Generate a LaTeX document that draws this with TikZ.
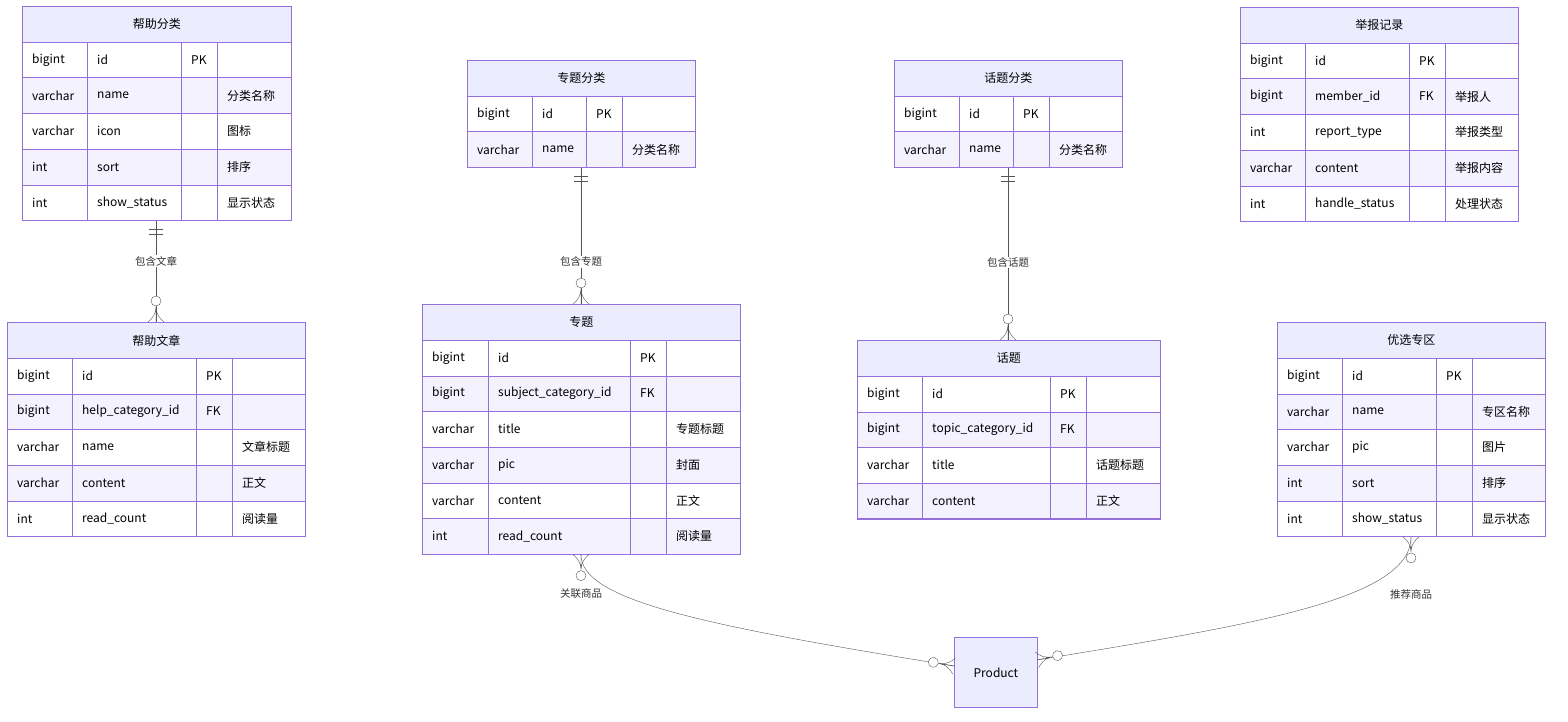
\documentclass[tikz,border=0pt]{standalone}
\usepackage{fontspec}
\setmainfont{Noto Sans CJK SC}
\usetikzlibrary{positioning, fit}
\definecolor{ErLine}{HTML}{9370DB}
\definecolor{ErHead}{HTML}{ECECFF}
\definecolor{ErRow}{HTML}{F4F2FF}
\definecolor{ErLink}{HTML}{555555}

% one entity: name, title, x0, c1, c2, c3, x4, y0, rows
\newcommand\ertable[9]{%
	\node (#1) [head, minimum width=#7-#3, minimum height=36, anchor=north west] at (#3,#8) {#2};
	\foreach \ty/\fn/\key/\cm [count=\r] in {#9} {
		\pgfmathsetmacro\ya{#8+36+(\r-1)*35.7}
		\pgfmathsetmacro\yb{\ya+35.7}
		\pgfmathsetmacro\ym{\ya+17.85}
		\ifodd\r \def\rowcol{white}\else\def\rowcol{ErRow}\fi
		\filldraw[fill=\rowcol, draw=ErLine] (#3,\ya) rectangle (#7,\yb);
		\draw[ErLine] (#4,\ya) -- (#4,\yb) (#5,\ya) -- (#5,\yb) (#6,\ya) -- (#6,\yb);
		\node (#1-t\r) [cell] at (#3+10,\ym) {\ty};
		\node (#1-n\r) [cell] at (#4+10,\ym) {\fn};
		\node (#1-k\r) [cell] at (#5+10,\ym) {\key};
		\node (#1-c\r) [cell] at (#6+10,\ym) {\cm};
		\xdef\nrows{\r}
	}
	\pgfmathsetmacro\yend{#8+36+\nrows*35.7}
	\node (#1-box) [fit={(#3,#8) (#7,\yend)}, inner sep=0, draw=ErLine, thick] {};
}

\begin{document}
\begin{tikzpicture}[x=1pt, y=-1pt,
		head/.style={draw=ErLine, thick, fill=ErHead, inner sep=0, font=\fontsize{12}{14}\selectfont},
		cell/.style={anchor=west, inner sep=0, font=\fontsize{12}{14}\selectfont},
		rel/.style={draw=ErLink, thin},
		lbl/.style={fill=white, inner sep=1pt, font=\fontsize{10.5}{12}\selectfont, text=black!80},
		crow/.pic={\draw[rel] (15,0) -- (0,0) (15,0) .. controls (8,0) and (3,4) .. (0,8) (15,0) .. controls (8,0) and (3,-4) .. (0,-8);
			\filldraw[rel, fill=white] (21,0) circle (5);},
		bars/.pic={\draw[rel] (8,-7) -- (8,7) (13,-7) -- (13,7);}
	]
	\useasboundingbox (0,0) rectangle (1568,722);

	\ertable{helpcat}{帮助分类}{22}{87}{181}{217}{291}{6}{bigint/id/PK/{}, varchar/name/{}/分类名称, varchar/icon/{}/图标, int/sort/{}/排序, int/show\_status/{}/显示状态}
	\ertable{helpart}{帮助文章}{7}{72}{196}{232}{305}{322}{bigint/id/PK/{}, bigint/help\_category\_id/FK/{}, varchar/name/{}/文章标题, varchar/content/{}/正文, int/read\_count/{}/阅读量}
	\ertable{subjcat}{专题分类}{467}{532}{586}{622}{695}{60}{bigint/id/PK/{}, varchar/name/{}/分类名称}
	\ertable{subject}{专题}{422}{488}{630}{666}{740}{304}{bigint/id/PK/{}, bigint/subject\_category\_id/FK/{}, varchar/title/{}/专题标题, varchar/pic/{}/封面, varchar/content/{}/正文, int/read\_count/{}/阅读量}
	\ertable{topiccat}{话题分类}{894}{959}{1013}{1049}{1122}{60}{bigint/id/PK/{}, varchar/name/{}/分类名称}
	\ertable{topic}{话题}{857}{922}{1050}{1086}{1160}{340}{bigint/id/PK/{}, bigint/topic\_category\_id/FK/{}, varchar/title/{}/话题标题, varchar/content/{}/正文}
	\ertable{report}{举报记录}{1240}{1305}{1409}{1445}{1518}{7}{bigint/id/PK/{}, bigint/member\_id/FK/举报人, int/report\_type/{}/举报类型, varchar/content/{}/举报内容, int/handle\_status/{}/处理状态}
	\ertable{prefer}{优选专区}{1277}{1342}{1436}{1472}{1545}{322}{bigint/id/PK/{}, varchar/name/{}/专区名称, varchar/pic/{}/图片, int/sort/{}/排序, int/show\_status/{}/显示状态}

	\node (product) [head, minimum width=83, minimum height=70, anchor=north west] at (954,637) {Product};

	% one to many
	\draw[rel] (helpcat-box.south -| 156,0) -- node[lbl, pos=.4] {包含文章} (helpart.north -| 156,0);
	\pic[rotate=-90] at (helpcat-box.south -| 156,0) {bars};
	\pic[rotate=90] at (helpart.north -| 156,0) {crow};

	\draw[rel] (subjcat-box.south -| 581,0) -- node[lbl, pos=.69] {包含专题} (subject.north -| 581,0);
	\pic[rotate=-90] at (subjcat-box.south -| 581,0) {bars};
	\pic[rotate=90] at (subject.north -| 581,0) {crow};

	\draw[rel] (topiccat-box.south -| 1008,0) -- node[lbl, pos=.55] {包含话题} (topic.north -| 1008,0);
	\pic[rotate=-90] at (topiccat-box.south -| 1008,0) {bars};
	\pic[rotate=90] at (topic.north -| 1008,0) {crow};

	% products
	\coordinate (pl) at (954,666);
	\coordinate (pr) at (1037,660);
	\draw[rel] (subject-box.south -| 581,0) .. controls (581,600) and (700,625) .. (pl);
	\node (lbl1) [lbl] at (581,594) {关联商品};
	\pic[rotate=-90] at (subject-box.south -| 581,0) {crow};
	\pic[rotate=170] at (pl) {crow};

	\draw[rel] (prefer-box.south -| 1411,0) .. controls (1411,600) and (1250,625) .. (pr);
	\node (lbl2) [lbl] at (1411,594) {推荐商品};
	\pic[rotate=-90] at (prefer-box.south -| 1411,0) {crow};
	\pic[rotate=12] at (pr) {crow};
\end{tikzpicture}
\end{document}
